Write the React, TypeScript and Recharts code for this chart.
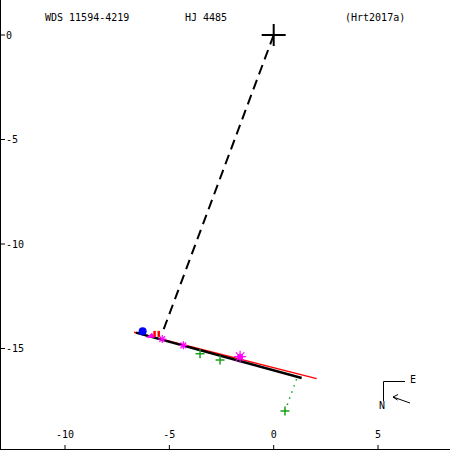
import React from 'react';
import { ScatterChart, Scatter, XAxis, YAxis } from 'recharts';

const xTicks = [-10, -5, 0, 5];
const yTicks = [0, -5, -10, -15];
const xDomain = [-13.115, 8.448];
const yDomain = [-19.856, 1.675];

const primary = [{ x: 0, y: 0 }];
const predictedLine = [{ x: 0, y: 0 }, { x: -5.28, y: -14.1 }];
const fitLine = [{ x: -6.6, y: -14.24 }, { x: 1.34, y: -16.41 }];
const redLine = [{ x: -6.69, y: -14.22 }, { x: 2.06, y: -16.44 }];
const residual = [{ x: 0.54, y: -17.99 }, { x: 1.12, y: -16.4 }];
const blueCircle = [{ x: -6.28, y: -14.18 }];
const magentaTri = [{ x: -5.88, y: -14.39 }];
const redMarks = [{ x: -5.72, y: -14.3 }, { x: -5.52, y: -14.3 }];
const magentaStars = [{ x: -5.34, y: -14.55 }, { x: -4.33, y: -14.85 }];
const magentaBig = [{ x: -1.61, y: -15.39 }];
const greenPlus = [{ x: -3.53, y: -15.25 }, { x: -2.57, y: -15.55 }, { x: 0.54, y: -17.99 }];

const FONT = 'DejaVu Sans Mono';
const MAGENTA = '#ff00ff';
const GREEN = '#1aa01a';

const Empty = () => <g />;

const BigPlus = (p: any) => (
  <g>
    <line x1={p.cx - 12} y1={p.cy} x2={p.cx + 12} y2={p.cy} stroke="#000" strokeWidth={2} />
    <line x1={p.cx} y1={p.cy - 11} x2={p.cx} y2={p.cy + 11} stroke="#000" strokeWidth={2} />
  </g>
);

const GreenPlus = (p: any) => (
  <g>
    <line x1={p.cx - 4.5} y1={p.cy} x2={p.cx + 4.5} y2={p.cy} stroke={GREEN} strokeWidth={1.5} />
    <line x1={p.cx} y1={p.cy - 4.5} x2={p.cx} y2={p.cy + 4.5} stroke={GREEN} strokeWidth={1.5} />
  </g>
);

const Star = (p: any, r: number, filled: boolean) => {
  const lines = [];
  for (let i = 0; i < 8; i++) {
    const a = (i * Math.PI) / 4;
    lines.push(
      <line key={i} x1={p.cx} y1={p.cy} x2={p.cx + r * Math.cos(a)} y2={p.cy + r * Math.sin(a)} stroke={MAGENTA} strokeWidth={1.2} />
    );
  }
  return (
    <g>
      {lines}
      {filled && <circle cx={p.cx} cy={p.cy} r={3} fill={MAGENTA} />}
    </g>
  );
};

const SmallStar = (p: any) => Star(p, 4, false);
const BigStar = (p: any) => Star(p, 6, true);

const BlueDot = (p: any) => <circle cx={p.cx} cy={p.cy} r={4} fill="#0000ff" />;

const MagTri = (p: any) => (
  <polygon
    points={`${p.cx - 5},${p.cy + 2} ${p.cx + 4},${p.cy + 2} ${p.cx + 1},${p.cy - 3}`}
    fill={MAGENTA}
  />
);

const RedMark = (p: any) => <rect x={p.cx - 1} y={p.cy - 3} width={2.5} height={6} fill="#ff0000" />;

export default function App() {
  const tickStyle = { fill: '#000', fontSize: 10, fontFamily: FONT };
  return (
    <div style={{ position: 'absolute', left: 0, top: 0, width: 450, height: 450, background: '#fff' }}>
      <ScatterChart width={450} height={450} margin={{ top: 0, right: 0, bottom: 0, left: 0 }}>
        <XAxis
          xAxisId="b"
          type="number"
          dataKey="x"
          domain={xDomain}
          ticks={xTicks}
          orientation="bottom"
          mirror
          allowDataOverflow
          tickSize={5}
          tickMargin={7}
          axisLine={{ stroke: '#000', strokeWidth: 2 }}
          tickLine={{ stroke: '#000' }}
          tick={tickStyle}
        />
        <XAxis
          xAxisId="t"
          type="number"
          dataKey="x"
          domain={xDomain}
          ticks={xTicks}
          orientation="top"
          mirror
          allowDataOverflow
          tickSize={4}
          axisLine={false}
          tickLine={{ stroke: '#000' }}
          tick={false}
        />
        <YAxis
          yAxisId="l"
          type="number"
          dataKey="y"
          domain={yDomain}
          ticks={yTicks}
          orientation="left"
          mirror
          allowDataOverflow
          tickSize={5}
          tickMargin={1}
          axisLine={{ stroke: '#000', strokeWidth: 2 }}
          tickLine={{ stroke: '#000' }}
          tick={tickStyle}
        />
        <YAxis
          yAxisId="r"
          type="number"
          dataKey="y"
          domain={yDomain}
          ticks={yTicks}
          orientation="right"
          mirror
          allowDataOverflow
          tickSize={4}
          axisLine={false}
          tickLine={{ stroke: '#000' }}
          tick={false}
        />
        <Scatter xAxisId="b" yAxisId="l" data={redLine} line={{ stroke: '#ff0000', strokeWidth: 1.5 }} shape={Empty} isAnimationActive={false} />
        <Scatter xAxisId="b" yAxisId="l" data={fitLine} line={{ stroke: '#000', strokeWidth: 2.5 }} shape={Empty} isAnimationActive={false} />
        <Scatter xAxisId="b" yAxisId="l" data={predictedLine} line={{ stroke: '#000', strokeWidth: 2, strokeDasharray: '10 6' }} shape={Empty} isAnimationActive={false} />
        <Scatter xAxisId="b" yAxisId="l" data={residual} line={{ stroke: GREEN, strokeWidth: 1.5, strokeDasharray: '1.5 5' }} shape={Empty} isAnimationActive={false} />
        <Scatter xAxisId="b" yAxisId="l" data={primary} shape={BigPlus} isAnimationActive={false} />
        <Scatter xAxisId="b" yAxisId="l" data={greenPlus} shape={GreenPlus} isAnimationActive={false} />
        <Scatter xAxisId="b" yAxisId="l" data={magentaStars} shape={SmallStar} isAnimationActive={false} />
        <Scatter xAxisId="b" yAxisId="l" data={magentaBig} shape={BigStar} isAnimationActive={false} />
        <Scatter xAxisId="b" yAxisId="l" data={magentaTri} shape={MagTri} isAnimationActive={false} />
        <Scatter xAxisId="b" yAxisId="l" data={redMarks} shape={RedMark} isAnimationActive={false} />
        <Scatter xAxisId="b" yAxisId="l" data={blueCircle} shape={BlueDot} isAnimationActive={false} />
      </ScatterChart>
      <svg width={450} height={450} style={{ position: 'absolute', left: 0, top: 0, pointerEvents: 'none' }}>
        <g fontFamily={FONT} fontSize={10} fill="#000">
          <text x={45} y={20.5}>WDS 11594-4219</text>
          <text x={185} y={20.5}>HJ 4485</text>
          <text x={345} y={20.5}>(Hrt2017a)</text>
          <text x={410} y={382.5}>E</text>
          <text x={379} y={408.5}>N</text>
        </g>
        <g stroke="#000" strokeWidth={1} fill="none">
          <line x1={383.5} y1={381.5} x2={405} y2={381.5} />
          <line x1={383.5} y1={381.5} x2={383.5} y2={401} />
          <line x1={410} y1={403} x2={393} y2={397} />
          <line x1={393} y1={397} x2={398} y2={394.5} />
          <line x1={393} y1={397} x2={397.5} y2={400} />
        </g>
      </svg>
    </div>
  );
}
